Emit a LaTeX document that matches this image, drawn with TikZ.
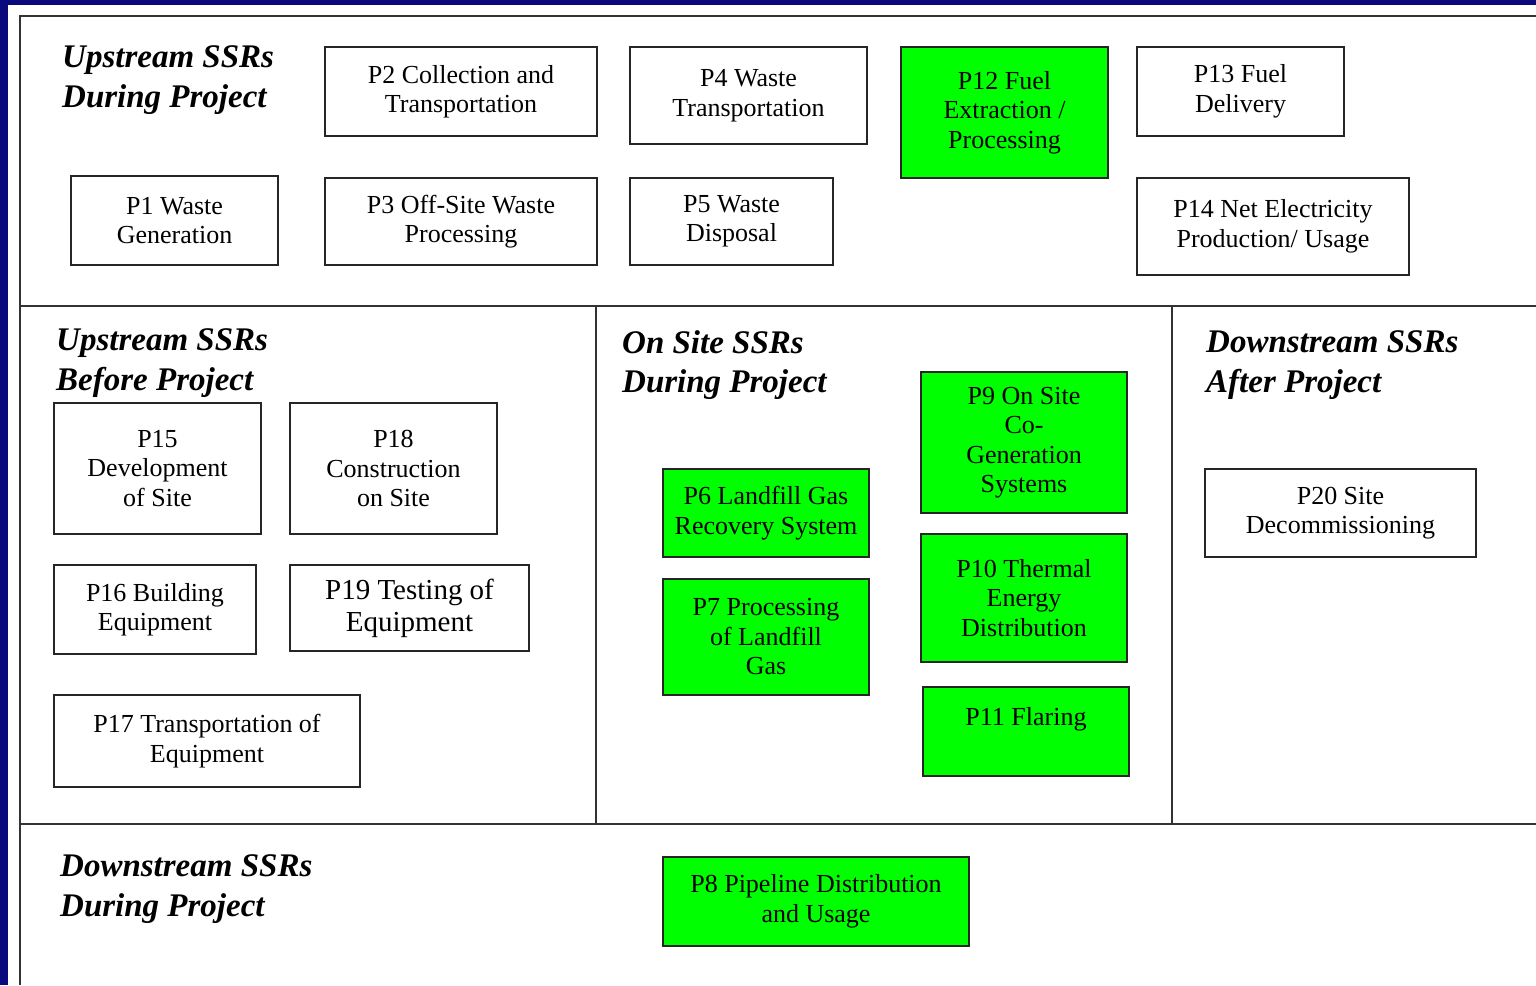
\documentclass[tikz,border=0pt]{standalone}
\usepackage{fontspec}
\setmainfont{Liberation Serif}
\definecolor{slidebg}{RGB}{10,10,125}
\definecolor{ssrgreen}{RGB}{0,255,0}
\tikzset{
  ssr/.style={draw=black!85, line width=1.6pt, align=center, inner sep=0pt,
    font=\fontsize{26}{29.5}\selectfont},
  onsite/.style={ssr, fill=ssrgreen},
  heading/.style={anchor=west, align=left, inner sep=0pt,
    font=\fontsize{33}{39.5}\selectfont\bfseries\itshape},
  frame/.style={line width=1.6pt, draw=black!80}}

\begin{document}
\begin{tikzpicture}[x=1pt, y=-1pt]
    \useasboundingbox (0,0) rectangle (1536,985);
    \fill[slidebg] (0,0) rectangle (1536,985);
    \fill[white] (8,5) rectangle (1536,985);
    \draw[frame] (1536,16) -- (20,16) -- (20,985);
    \draw[frame] (20,306) -- (1536,306);
    \draw[frame] (20,824) -- (1536,824);
    \draw[frame] (596,306) -- (596,824);
    \draw[frame] (1172,306) -- (1172,824);

    \node[heading] (upduring) at (62,80) {Upstream SSRs\\During Project};
    \node[heading] (upbefore) at (56,363) {Upstream SSRs\\Before Project};
    \node[heading] (onsite) at (622,365) {On Site SSRs\\During Project};
    \node[heading] (downafter) at (1206,365) {Downstream SSRs\\After Project};
    \node[heading] (downduring) at (60,889) {Downstream SSRs\\During Project};

    \node[ssr, minimum width=272pt, minimum height=89pt] (p2) at (461,91.5) {P2 Collection and\\Transportation};
    \node[ssr, minimum width=237pt, minimum height=97pt] (p4) at (748.5,95.5) {P4 Waste\\Transportation};
    \node[onsite, minimum width=207pt, minimum height=131pt] (p12) at (1004.5,112.5) {P12 Fuel\\Extraction /\\Processing};
    \node[ssr, minimum width=207pt, minimum height=89pt] (p13) at (1240.5,91.5) {P13 Fuel\\Delivery};
    \node[ssr, minimum width=207pt, minimum height=89pt] (p1) at (174.5,220.5) {P1 Waste\\Generation};
    \node[ssr, minimum width=272pt, minimum height=87pt] (p3) at (461,221.5) {P3 Off-Site Waste\\Processing};
    \node[ssr, minimum width=203pt, minimum height=87pt] (p5) at (731.5,221.5) {P5 Waste\\Disposal};
    \node[ssr, minimum width=272pt, minimum height=97pt] (p14) at (1273,226.5) {P14 Net Electricity\\Production/ Usage};

    \node[ssr, minimum width=207pt, minimum height=131pt] (p15) at (157.5,468.5) {P15\\Development\\of Site};
    \node[ssr, minimum width=207pt, minimum height=131pt] (p18) at (393.5,468.5) {P18\\Construction\\on Site};
    \node[ssr, minimum width=202pt, minimum height=89pt] (p16) at (155,609.5) {P16 Building\\Equipment};
    \node[ssr, minimum width=239pt, minimum height=86pt, font=\fontsize{29}{32}\selectfont] (p19) at (409.5,608) {P19 Testing of\\Equipment};
    \node[ssr, minimum width=306pt, minimum height=92pt] (p17) at (207,741) {P17 Transportation of\\Equipment};

    \node[onsite, minimum width=206pt, minimum height=88pt] (p6) at (766,513) {P6 Landfill Gas\\Recovery System};
    \node[onsite, minimum width=206pt, minimum height=116pt] (p7) at (766,637) {P7 Processing\\of Landfill\\Gas};
    \node[onsite, minimum width=206pt, minimum height=141pt] (p9) at (1024,442.5) {P9 On Site\\Co-\\Generation\\Systems};
    \node[onsite, minimum width=206pt, minimum height=128pt] (p10) at (1024,598) {P10 Thermal\\Energy\\Distribution};
    \node[onsite, minimum width=206pt, minimum height=89pt] (p11) at (1026,731.5) {P11 Flaring\\\mbox{}};

    \node[ssr, minimum width=271pt, minimum height=88pt] (p20) at (1340.5,513) {P20 Site\\Decommissioning};
    \node[onsite, minimum width=306pt, minimum height=89pt] (p8) at (816,901.5) {P8 Pipeline Distribution\\and Usage};
\end{tikzpicture}
\end{document}
